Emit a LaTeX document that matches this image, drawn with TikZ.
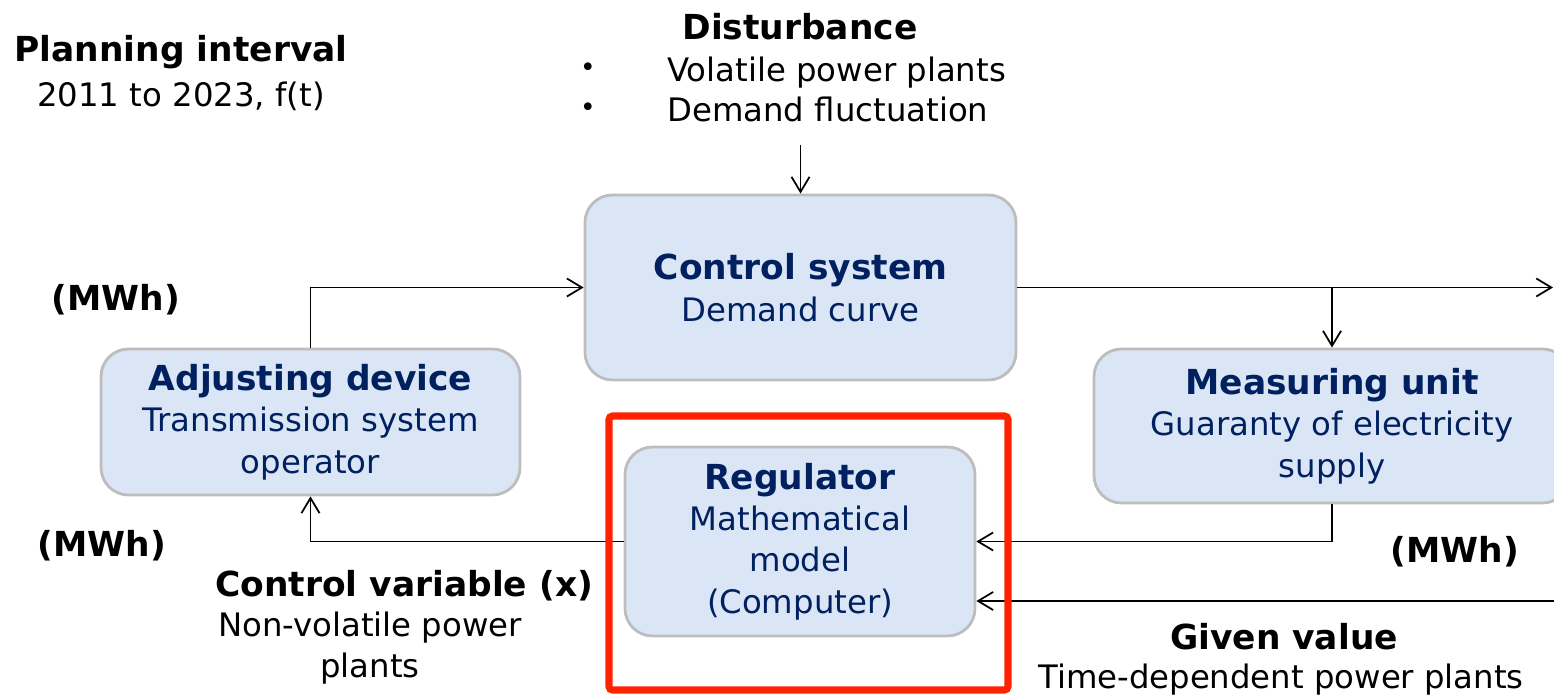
\documentclass[tikz,border=0pt]{standalone}
\usepackage{fontspec}
\setmainfont{DejaVu Sans}
\usetikzlibrary{arrows.meta,positioning}
\definecolor{boxfill}{HTML}{DAE6F6}
\definecolor{boxline}{HTML}{BDBDBD}
\definecolor{navy}{HTML}{002060}
\definecolor{alert}{HTML}{FF2200}
\newcommand{\blkhead}[1]{{\fontsize{19.6}{23.5}\selectfont\bfseries #1}}

\begin{document}
\begin{tikzpicture}[>={Straight Barb[length=3mm,width=3.6mm]},
    txt/.style={font=\fontsize{18.4}{23.5}\selectfont,inner sep=0pt},
    blk/.style={txt,rectangle,rounded corners=0.55cm,fill=boxfill,draw=boxline,
      line width=1.6pt,text=navy,align=center},
    wire/.style={line width=1pt}]
  \useasboundingbox (0,0) rectangle (31.08,-13.98);

  % blocks of the loop
  \node[blk,minimum width=8.62cm,minimum height=3.70cm] (ctrl) at (16.01,-5.75)
    {\blkhead{Control system}\\Demand curve};
  \node[blk,minimum width=8.38cm,minimum height=2.92cm] (adj) at (6.21,-8.44)
    {\blkhead{Adjusting device}\\Transmission system\\operator};
  \node[blk,minimum width=9.52cm,minimum height=3.08cm] (meas) at (26.64,-8.52)
    {\blkhead{Measuring unit}\\Guaranty of electricity\\supply};
  \node[blk,minimum width=7.00cm,minimum height=3.78cm] (reg) at (16.00,-10.83)
    {\blkhead{Regulator}\\Mathematical\\model\\(Computer)};

  % labels
  \node[txt,align=center,font=\fontsize{18.4}{25.5}\selectfont] (plan) at (3.62,-1.46)
    {\blkhead{Planning interval}\\2011 to 2023, f(t)};
  \node[txt] (dist) at (16.00,-0.54) {\blkhead{Disturbance}};
  \node[txt,anchor=west,align=left,font=\fontsize{18.4}{22.8}\selectfont] (dlist) at (13.34,-1.78)
    {Volatile power plants\\Demand fluctuation};
  \node[txt,align=center,font=\fontsize{15}{22.8}\selectfont] (dbul) at (11.76,-1.80)
    {\textbullet\\\textbullet};
  \node[txt] (mwhA) at (2.32,-6.00) {\blkhead{(MWh)}};
  \node[txt] (mwhB) at (2.04,-10.92) {\blkhead{(MWh)}};
  \node[txt] (mwhC) at (29.10,-11.04) {\blkhead{(MWh)}};
  \node[txt,anchor=west] (cvar) at (4.30,-11.72) {\blkhead{Control variable (x)}};
  \node[txt,align=center] (cvarB) at (7.40,-12.96) {Non-volatile power\\plants};
  \node[txt] (given) at (25.68,-12.74) {\blkhead{Given value}};
  \node[txt] (givenB) at (25.62,-13.60) {Time-dependent power plants};

  % connectors
  \coordinate (distIn) at (16.01,-2.90);
  \coordinate (outR) at (31.06,-5.75);
  \coordinate (inR) at (31.08,-12.02);
  \draw[wire,->] (distIn) -- (ctrl.north);
  \draw[wire,->] (adj.north) |- (ctrl.west);
  \draw[wire,->] (ctrl.east) -- (outR);
  \draw[wire,->] (meas.north |- ctrl.east) -- (meas.north);
  \draw[wire,->] (meas.south) |- (reg.east);
  \draw[wire,->] (reg.west) -| (adj.south);
  \draw[wire,->] (inR) -- (inR -| reg.east);

  % highlight round the regulator
  \draw[alert,line width=4pt,rounded corners=2pt] (12.18,-8.32) rectangle (20.16,-13.80);
\end{tikzpicture}
\end{document}
